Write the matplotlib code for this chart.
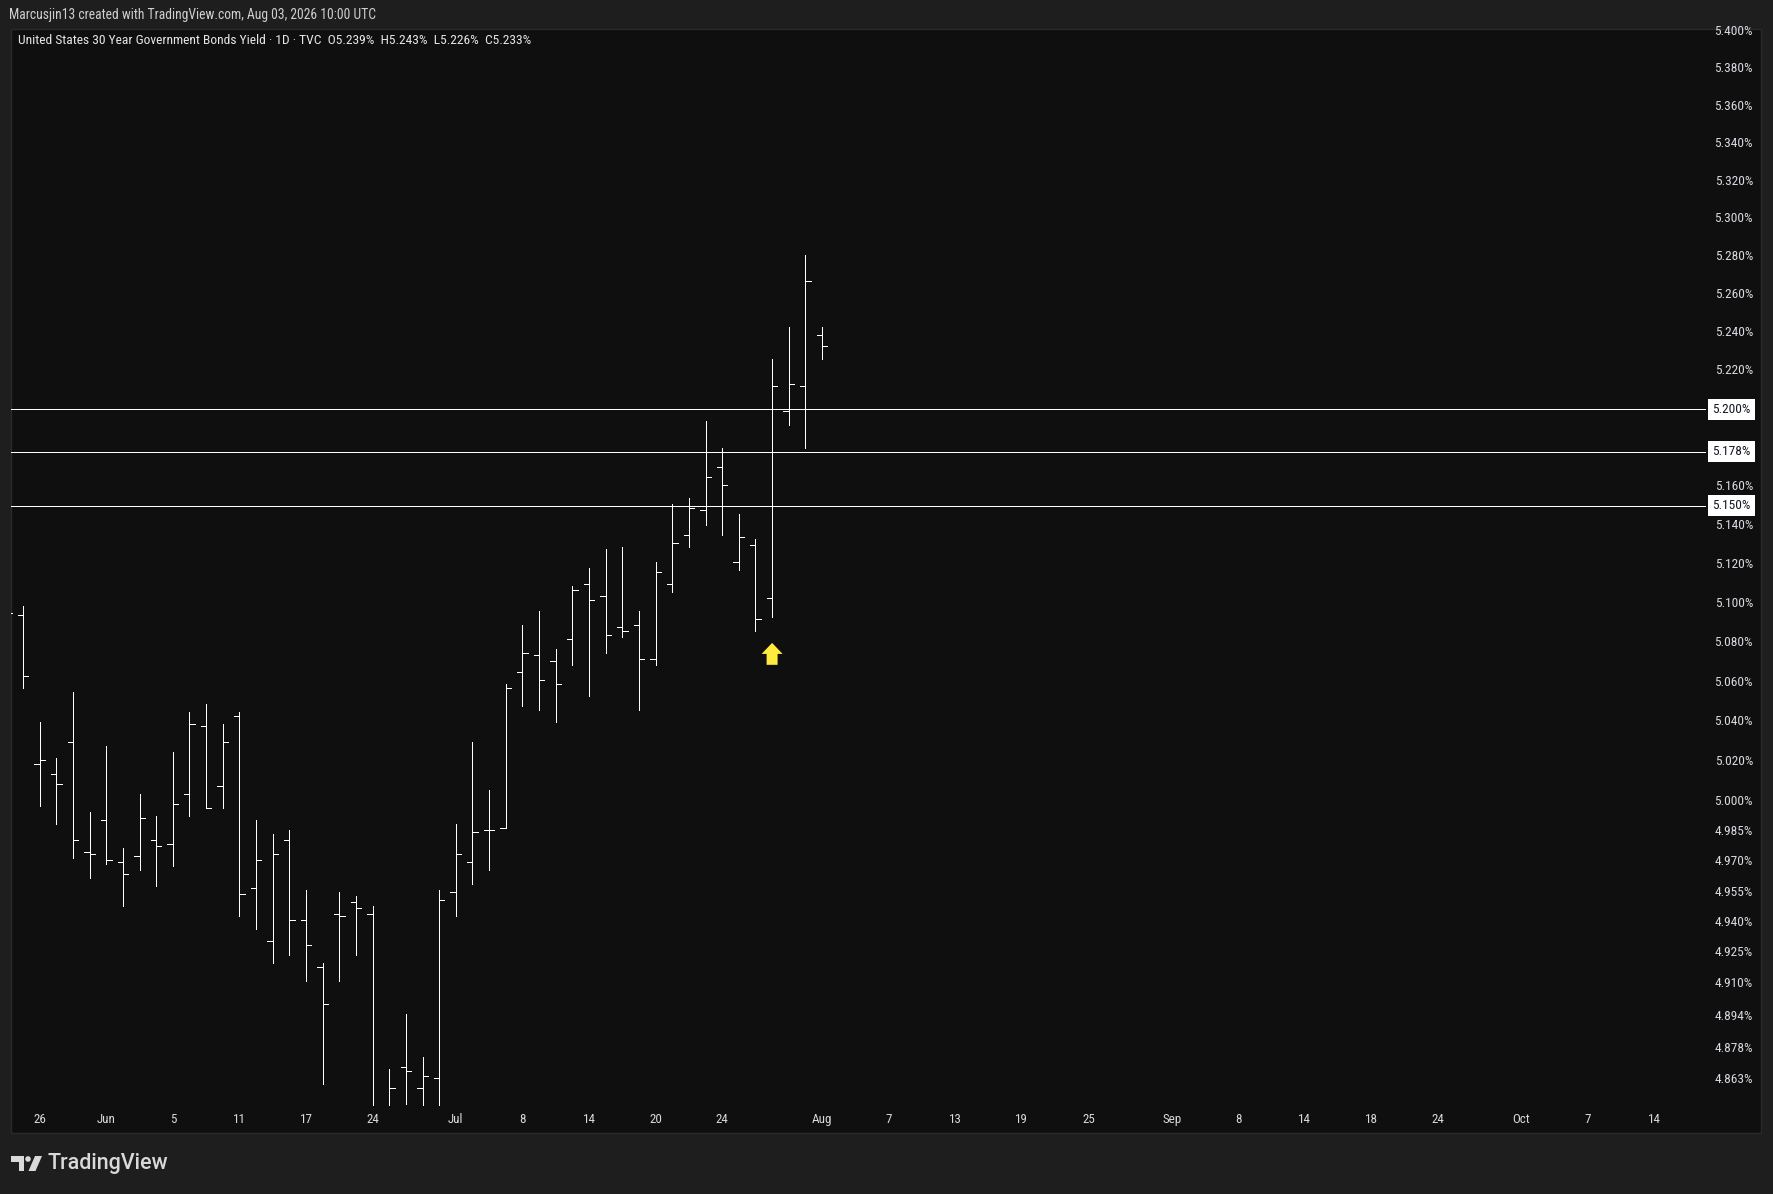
import matplotlib
matplotlib.use("Agg")
import matplotlib.pyplot as plt
import matplotlib.transforms as mtransforms
from matplotlib import font_manager
from matplotlib.patches import Rectangle, Polygon, Circle
from matplotlib.ticker import NullLocator
import pandas as pd

# US 30Y yield, daily OHLC (TVC), 2026-05-21 .. 2026-08-03
first_bar = "2026-05-21"
last_bar = "2026-08-03"
holidays = ["2026-05-25", "2026-06-19", "2026-07-03", "2026-09-07", "2026-10-12"]

opens = [5.105, 5.094, 5.019, 5.014, 5.030, 4.975, 4.991, 4.970, 4.973, 4.981,
         4.979, 5.004, 5.038, 5.008, 5.043, 4.957, 4.931, 4.981, 4.941, 4.918,
         4.944, 4.950, 4.944, 4.848, 4.869, 4.859, 4.864, 4.955, 4.970, 4.986,
         4.987, 5.065, 5.074, 5.071, 5.082, 5.110, 5.104, 5.088, 5.089, 5.072,
         5.110, 5.135, 5.148, 5.170, 5.121, 5.130, 5.103, 5.199, 5.212, 5.239]
highs = [5.112, 5.099, 5.040, 5.022, 5.055, 4.995, 5.028, 4.977, 5.004, 4.993,
         5.025, 5.045, 5.049, 5.039, 5.045, 4.991, 4.984, 4.986, 4.956, 4.920,
         4.955, 4.953, 4.948, 4.868, 4.895, 4.874, 4.956, 4.989, 5.030, 5.006,
         5.059, 5.089, 5.096, 5.077, 5.109, 5.118, 5.128, 5.129, 5.096, 5.121,
         5.151, 5.154, 5.194, 5.180, 5.146, 5.133, 5.226, 5.243, 5.281, 5.243]
lows = [5.088, 5.057, 4.998, 4.989, 4.972, 4.962, 4.969, 4.948, 4.966, 4.958,
        4.968, 4.993, 4.997, 4.997, 4.943, 4.937, 4.920, 4.924, 4.911, 4.861,
        4.911, 4.924, 4.840, 4.842, 4.851, 4.845, 4.845, 4.943, 4.959, 4.966,
        4.987, 5.048, 5.046, 5.040, 5.069, 5.053, 5.075, 5.083, 5.046, 5.069,
        5.106, 5.129, 5.140, 5.135, 5.117, 5.086, 5.093, 5.192, 5.180, 5.226]
closes = [5.095, 5.063, 5.021, 5.009, 4.981, 4.974, 4.971, 4.964, 4.992, 4.978,
          4.999, 5.039, 4.997, 5.030, 4.954, 4.971, 4.974, 4.941, 4.929, 4.900,
          4.943, 4.947, 4.847, 4.859, 4.867, 4.865, 4.951, 4.974, 4.985, 4.986,
          5.057, 5.075, 5.061, 5.059, 5.107, 5.102, 5.084, 5.086, 5.072, 5.116,
          5.131, 5.149, 5.165, 5.161, 5.134, 5.092, 5.212, 5.213, 5.267, 5.233]

# horizontal levels drawn on the chart
level_lines = [5.200, 5.178, 5.150]

# price scale labels
price_ticks = [5.400, 5.380, 5.360, 5.340, 5.320, 5.300, 5.280, 5.260, 5.240,
               5.220, 5.180, 5.160, 5.140, 5.120, 5.100, 5.080, 5.060, 5.040,
               5.020, 5.000, 4.985, 4.970, 4.955, 4.940, 4.925, 4.910, 4.894,
               4.878, 4.863]

# time scale labels
time_tick_dates = ["2026-05-26", "2026-06-01", "2026-06-05", "2026-06-11",
                   "2026-06-17", "2026-06-24", "2026-07-01", "2026-07-08",
                   "2026-07-14", "2026-07-20", "2026-07-24", "2026-08-03",
                   "2026-08-07", "2026-08-13", "2026-08-19", "2026-08-25",
                   "2026-09-01", "2026-09-08", "2026-09-14", "2026-09-18",
                   "2026-09-24", "2026-10-01", "2026-10-07", "2026-10-14"]
time_tick_labels = ["26", "Jun", "5", "11", "17", "24", "Jul", "8", "14", "20",
                    "24", "Aug", "7", "13", "19", "25", "Sep", "8", "14", "18",
                    "24", "Oct", "7", "14"]

# the yellow marker under the Jul 29 bar
arrow_date = "2026-07-29"
arrow_tip = 5.080

header = "Marcusjin13 created with TradingView.com, Aug 03, 2026 10:00 UTC"
title = ("United States 30 Year Government Bonds Yield \u00b7 1D \u00b7 TVC  "
         "O5.239%  H5.243%  L5.226%  C5.233%")


def pick_font(names):
    for n in names:
        try:
            font_manager.findfont(n, fallback_to_default=False)
            return n
        except ValueError:
            pass
    return "DejaVu Sans"


UI_FONT = pick_font(["Liberation Sans Narrow", "Roboto Condensed", "Liberation Sans"])
LOGO_FONT = pick_font(["Roboto", "Inter", "DejaVu Sans"])

W, H = 1773, 1194
BG_OUT = "#1e1e1e"
BG_PANEL = "#0f0f0f"
TXT = "#d8dae0"
LW = 0.72  # one pixel at 100 dpi

# trading day calendar -> bar index
cal = pd.bdate_range("2026-05-21", "2026-10-31", freq="C", holidays=holidays)
cal_idx = {d.strftime("%Y-%m-%d"): i for i, d in enumerate(cal)}
bar_dates = [d.strftime("%Y-%m-%d") for d in cal if first_bar <= d.strftime("%Y-%m-%d") <= last_bar]
x = [cal_idx[d] for d in bar_dates]

fig = plt.figure(figsize=(W / 100, H / 100), dpi=100, facecolor=BG_OUT)

# pixel transform, origin top-left
pix = mtransforms.Affine2D().scale(1 / W, -1 / H).translate(0, 1) + fig.transFigure

panel = Rectangle((11, 29), 1750, 1104, transform=pix, facecolor=BG_PANEL,
                  edgecolor="#2a2a2a", linewidth=1.0, zorder=0)
fig.add_artist(panel)

ax = fig.add_axes([11 / W, 1 - 1106 / H, (1706 - 11) / W, (1106 - 29) / H])
ax.set_facecolor("none")
for s in ax.spines.values():
    s.set_visible(False)
ax.set_yscale("log")
ax.set_ylim(4.8502, 5.4015)
ax.set_xlim(0.28, 102.1)
ax.set_xticks([])
ax.set_yticks([])
ax.yaxis.set_minor_locator(NullLocator())
ax.xaxis.set_minor_locator(NullLocator())

# OHLC bars
tick_w = 0.32
ax.vlines(x, lows, highs, colors="white", linewidth=LW, antialiased=False)
ax.hlines(opens, [i - tick_w for i in x], x, colors="white", linewidth=LW, antialiased=False)
ax.hlines(closes, x, [i + tick_w for i in x], colors="white", linewidth=LW, antialiased=False)

# horizontal levels
for lv in level_lines:
    ax.axhline(lv, color="white", linewidth=LW, antialiased=False)

# arrow marker
ax_x = cal_idx[arrow_date]
head_base = arrow_tip * 0.99890
stem_bot = arrow_tip * 0.99781
arrow = Polygon([(ax_x, arrow_tip), (ax_x + 0.63, head_base), (ax_x + 0.33, head_base),
                 (ax_x + 0.33, stem_bot), (ax_x - 0.33, stem_bot), (ax_x - 0.33, head_base),
                 (ax_x - 0.63, head_base)], closed=True, facecolor="#ffeb3b",
                edgecolor="none", zorder=4)
ax.add_patch(arrow)

# price scale
ytrans = mtransforms.blended_transform_factory(fig.transFigure, ax.transData)
for v in price_ticks:
    ax.text(1753 / W, v, f"{v:.3f}%", transform=ytrans, ha="right", va="center",
            color=TXT, fontsize=9.6, family=UI_FONT, clip_on=False, zorder=3)
for lv in level_lines:
    ax.text(1731.5 / W, lv, f"{lv:.3f}%", transform=ytrans, ha="center", va="center",
            color="#131722", fontsize=9.6, family=UI_FONT, clip_on=False, zorder=6,
            bbox=dict(boxstyle="square,pad=0.3", facecolor="white", edgecolor="none"))

# time scale
xtrans = mtransforms.blended_transform_factory(ax.transData, fig.transFigure)
for d, lab in zip(time_tick_dates, time_tick_labels):
    ax.text(cal_idx[d], 1 - 1119.5 / H, lab, transform=xtrans, ha="center", va="center",
            color=TXT, fontsize=9.4, family=UI_FONT, clip_on=False)

# header texts
fig.text(9, 14.7, header, transform=pix, ha="left", va="center", color="#cfcfcf",
         fontsize=9.8, family=UI_FONT)
fig.text(18, 41, title, transform=pix, ha="left", va="center", color="#e6e6e6",
         fontsize=9.7, family=UI_FONT)

# TradingView logo
logo_col = "#d9d9d9"
fig.add_artist(Polygon([(11, 1156), (24, 1156), (24, 1171), (18.5, 1171), (18.5, 1161.5),
                        (11, 1161.5)], closed=True, transform=pix, facecolor=logo_col,
                       edgecolor="none"))
fig.add_artist(Circle((28, 1159), 2.8, transform=pix, facecolor=logo_col, edgecolor="none"))
fig.add_artist(Polygon([(35, 1156), (42, 1156), (35.5, 1171), (28.5, 1171)], closed=True,
                       transform=pix, facecolor=logo_col, edgecolor="none"))
fig.text(48, 1163.5, "TradingView", transform=pix, ha="left", va="center", color=logo_col,
         fontsize=15.5, family=LOGO_FONT, fontweight="medium")

fig.savefig("out.png", dpi=100, facecolor=BG_OUT)
